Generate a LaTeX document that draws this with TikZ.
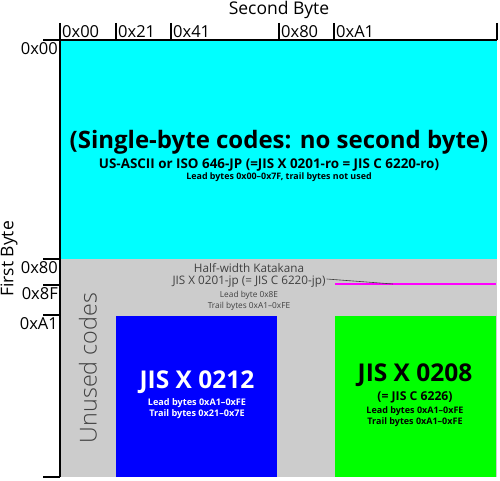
\documentclass[tikz,border=0pt]{standalone}
\usepackage{fontspec}
\setmainfont{Open Sans}
\newfontfamily\axisfont{Open Sans}
\newfontfamily\lightfont{Open Sans Light}
\definecolor{cyanfill}{RGB}{0,255,255}
\definecolor{grayfill}{RGB}{204,204,204}
\definecolor{bluefill}{RGB}{0,0,255}
\definecolor{greenfill}{RGB}{0,255,0}
\definecolor{magline}{RGB}{255,0,255}
\definecolor{calloutgray}{RGB}{60,60,60}
\tikzset{
  axisline/.style={line width=1.2pt, black},
  axislabel/.style={inner sep=0pt, font=\axisfont\fontsize{17.5}{20}\selectfont},
  toplabel/.style={anchor=base west, inner sep=0pt, font=\axisfont\fontsize{16.5}{19}\selectfont},
  leftlabel/.style={anchor=north east, inner sep=0pt, font=\axisfont\fontsize{16.5}{19}\selectfont},
  grtext/.style={inner sep=0pt, text=black!75},
}
\begin{document}
\begin{tikzpicture}[x=1pt,y=-1pt]
\useasboundingbox (0,0) rectangle (500,481);
% regions
\fill[grayfill] (61,259) rectangle (497,477);
\fill[cyanfill] (61,41) rectangle (497,259);
\fill[bluefill] (116,316) rectangle (277,477);
\fill[greenfill] (335,316) rectangle (496,477);
\draw[magline, line width=1.2pt] (335,284) -- (496,284);
% axes
\draw[axisline] (43,40) -- (497,40);
\draw[axisline] (60,40) -- (60,477);
\foreach \x in {60,116,171,279,334,497} \draw[axisline] (\x,23) -- (\x,40);
\foreach \y in {259,285,315} \draw[axisline] (43,\y) -- (60,\y);
\draw[axisline] (43,477) -- (60,477);
% axis titles
\node[axislabel] (sb) at (279,10) {Second Byte};
\node[axislabel, rotate=90] (fb) at (9,259) {First Byte};
% top labels
\node[toplabel] (t00) at (62,37.5) {0x00};
\node[toplabel] (t21) at (118,37.5) {0x21};
\node[toplabel] (t41) at (173,37.5) {0x41};
\node[toplabel] (t80) at (281,37.5) {0x80};
\node[toplabel] (tA1) at (336,37.5) {0xA1};
% left labels
\node[leftlabel] (l00) at (58,42) {0x00};
\node[leftlabel] (l80) at (58,261) {0x80};
\node[leftlabel] (l8F) at (58,287) {0x8F};
\node[leftlabel] (lA1) at (58,317) {0xA1};
% single byte
\node[inner sep=0pt, font=\bfseries\fontsize{24}{27}\selectfont] (sbt) at (279,142) {(Single-byte codes: no second byte)};
\node[inner sep=0pt, font=\bfseries\fontsize{13.4}{15}\selectfont] (ascii) at (269,165) {US-ASCII or ISO 646-JP (=JIS X 0201-ro = JIS C 6220-ro)};
\node[inner sep=0pt, font=\bfseries\fontsize{8.9}{10}\selectfont] (lead1) at (279,177.5) {Lead bytes 0x00–0x7F, trail bytes not used};
% katakana
\node[grtext, font=\fontsize{11.7}{13}\selectfont] (hwk) at (249,268) {Half-width Katakana};
\node[grtext, font=\fontsize{11.7}{13}\selectfont] (jisr) at (249,282) {JIS X 0201-jp (= JIS C 6220-jp)};
\node[grtext, font=\fontsize{8.3}{9}\selectfont] (kl) at (249,295.5) {Lead byte 0x8E};
\node[grtext, font=\fontsize{8.3}{9}\selectfont] (kt) at (249,306) {Trail bytes 0xA1–0xFE};
\coordinate (cend) at (393,284);
\draw[calloutgray, line width=0.6pt] (jisr.east) ++(1,-3) -- (cend);
% unused
\node[inner sep=0pt, rotate=90, text=black!75, font=\lightfont\fontsize{23.3}{26}\selectfont] (unused) at (88,368) {Unused codes};
% JIS X 0212
\node[inner sep=0pt, text=white, font=\bfseries\fontsize{24.5}{28}\selectfont] (j212) at (197,382) {JIS X 0212};
\node[inner sep=0pt, text=white, font=\bfseries\fontsize{9.1}{10}\selectfont] (j212l) at (197,403) {Lead bytes 0xA1–0xFE};
\node[inner sep=0pt, text=white, font=\bfseries\fontsize{9.1}{10}\selectfont] (j212t) at (197,414) {Trail bytes 0x21–0x7E};
% JIS X 0208
\node[inner sep=0pt, font=\bfseries\fontsize{24.5}{28}\selectfont] (j208) at (415,375) {JIS X 0208};
\node[inner sep=0pt, font=\bfseries\fontsize{12.2}{14}\selectfont] (j208e) at (415,397) {(= JIS C 6226)};
\node[inner sep=0pt, font=\bfseries\fontsize{9}{10}\selectfont] (j208l) at (415,411) {Lead bytes 0xA1–0xFE};
\node[inner sep=0pt, font=\bfseries\fontsize{9}{10}\selectfont] (j208t) at (415,422) {Trail bytes 0xA1–0xFE};
\end{tikzpicture}
\end{document}
